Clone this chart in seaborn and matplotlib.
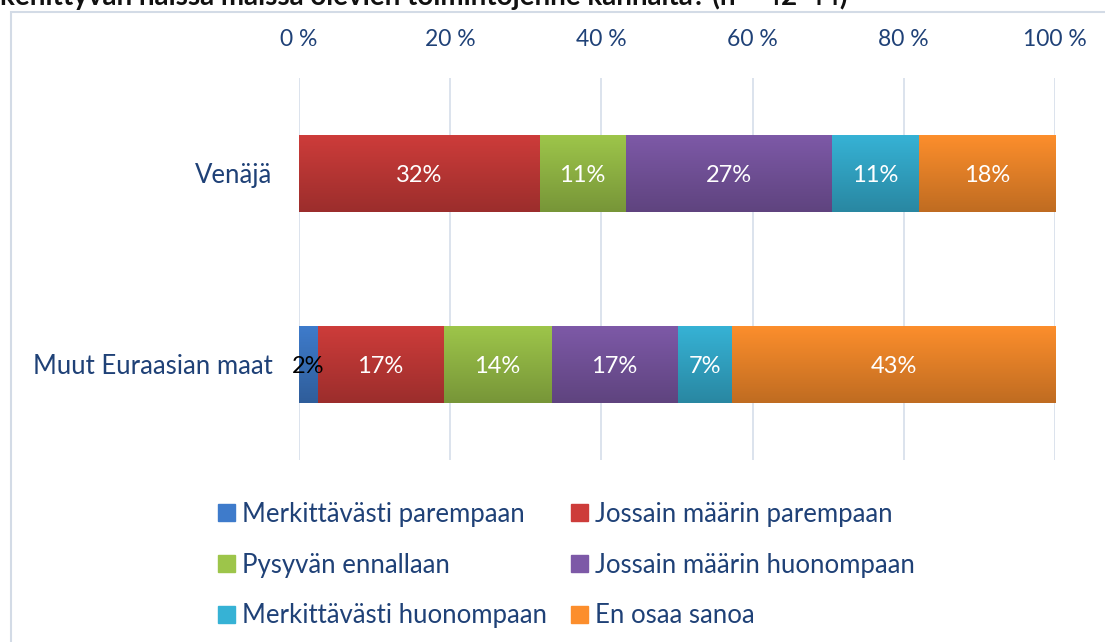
import matplotlib.pyplot as plt
import matplotlib.patches as mpatches
import matplotlib.colors as mcolors
import numpy as np
import seaborn as sns

# data
countries = ["Venäjä", "Muut Euraasian maat"]
answers = ["Merkittävästi parempaan", "Jossain määrin parempaan", "Pysyvän ennallaan",
           "Jossain määrin huonompaan", "Merkittävästi huonompaan", "En osaa sanoa"]
venaja = [0.0, 31.8, 11.4, 27.3, 11.4, 18.2]
muut = [2.4, 16.7, 14.3, 16.7, 7.1, 42.9]
ticks = [0, 20, 40, 60, 80, 100]
colors = ["#3E7BCB", "#CD3C3A", "#9DC54A", "#7D59A7", "#36B2D5", "#FC8E2C"]

title = "kehittyvän näissä maissa olevien toimintojenne kannalta? (n = 42-44)"
text_col = "#1F4177"

sns.set_theme(style="white")
plt.rcParams['font.family'] = ['Lato', 'DejaVu Sans']

fig = plt.figure(figsize=(11.05, 6.42), dpi=100)
ax = fig.add_axes([299 / 1105, 1 - 460 / 642, (1055 - 299) / 1105, (460 - 78) / 642])

values = np.array([venaja, muut])
cum = values.cumsum(axis=1)

# stacked bars: draw cumulative totals from the last group back to the first
for i in range(len(answers) - 1, -1, -1):
    sns.barplot(x=cum[:, i], y=countries, color=colors[i], orient="h", width=0.4,
                saturation=1, ax=ax, linewidth=0)

# office-like vertical gradient on every bar, clipped to the bar itself
ramp = np.linspace(1.0, 0.76, 64)[:, None]
for k, p in enumerate(list(ax.patches)):
    if p.get_width() <= 0:
        continue
    rgb = np.array(mcolors.to_rgb(p.get_facecolor()))
    img = (ramp[:, :, None] * rgb[None, None, :]).repeat(2, axis=1)
    x0, y0 = p.get_x(), p.get_y()
    im = ax.imshow(img, extent=(x0, x0 + p.get_width(), y0 + p.get_height(), y0),
                   aspect="auto", interpolation="bilinear", zorder=1.5 + k * 0.01)
    im.set_clip_path(p)

# labels
for r in range(len(countries)):
    for i in range(len(answers)):
        v = values[r, i]
        if v <= 0:
            continue
        col = "white" if v >= 4 else "black"
        ax.text(cum[r, i] - v / 2, r + 0.01, f"{v:.0f}%", ha="center", va="center",
                color=col, fontsize=17, zorder=5)

ax.set_xlim(0, 100)
ax.set_ylim(1.5, -0.5)
ax.set_xticks(ticks)
ax.set_xticklabels([f"{t} %" for t in ticks])
ax.xaxis.tick_top()
ax.tick_params(axis="x", length=0, pad=20, labelsize=16.5, labelcolor=text_col)
ax.tick_params(axis="y", length=0, pad=19, labelsize=18.5, labelcolor=text_col)
ax.set_xlabel("")
ax.set_ylabel("")
ax.grid(axis="x", color="#D5DEEA", linewidth=1.2)
ax.set_axisbelow(True)
for s in ax.spines.values():
    s.set_visible(False)

# legend filled row by row
order = [0, 2, 4, 1, 3, 5]
handles = [mpatches.Patch(color=colors[k], label=answers[k]) for k in order]
leg = fig.legend(handles=handles, ncol=2, loc="center left",
                 bbox_to_anchor=(218 / 1105, 1 - 565 / 642),
                 frameon=False, fontsize=18.5, handlelength=0.66, handleheight=0.66,
                 handletextpad=0.27, columnspacing=0.95, labelspacing=1.0,
                 borderpad=0, borderaxespad=0)
for t in leg.get_texts():
    t.set_color(text_col)

# chart frame and clipped title
fig.patches.append(mpatches.Rectangle((11 / 1105, -0.05), 1.2, 1 - 12 / 642 + 0.05,
                                      transform=fig.transFigure, fill=False,
                                      edgecolor="#D3DBE6", linewidth=1.5))
fig.text(0.0, 1 - 5 / 642, title, ha="left", va="baseline", fontsize=20,
         fontweight="bold", color="#111111")

fig.savefig("out.png", dpi=100)
